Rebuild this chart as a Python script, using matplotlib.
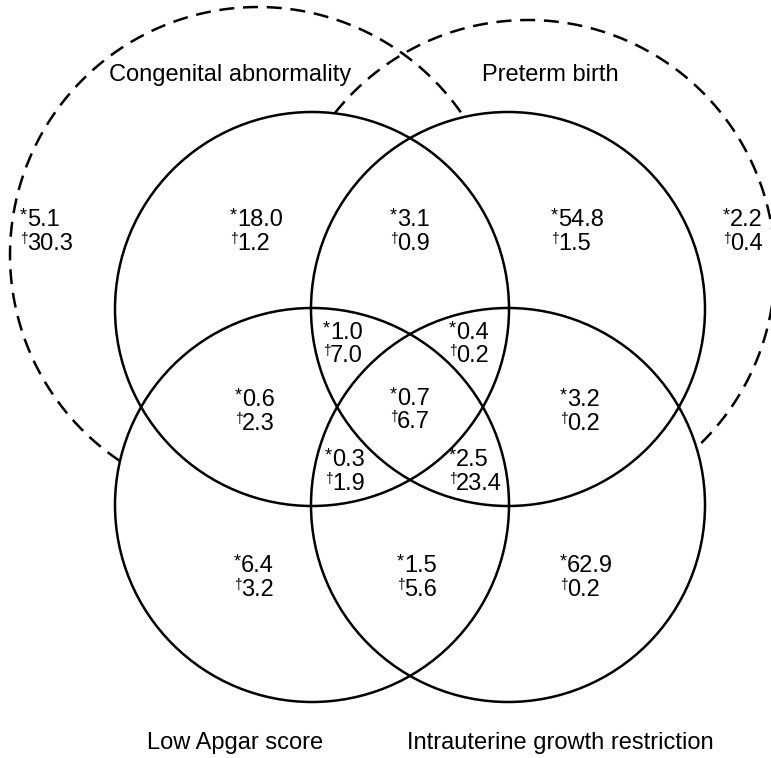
import numpy as np
import matplotlib
matplotlib.use('Agg')
import matplotlib.pyplot as plt
from matplotlib.patches import Circle

plt.rcParams['font.family'] = ['Liberation Sans', 'DejaVu Sans']

# Значения по областям диаграммы (* и †)
regions = ['CA only', 'CA+LA', 'CA+PB', 'CA+LA+PB', 'all four', 'CA+PB+IUGR',
           'PB only', 'PB+IUGR', 'LA only', 'LA+IUGR', 'IUGR only',
           'CA+LA+IUGR', 'PB+LA+IUGR', 'outside CA', 'outside PB']
star_vals = [18.0, 0.6, 3.1, 1.0, 0.7, 0.4, 54.8, 3.2, 6.4, 1.5, 62.9, 0.3, 2.5, 5.1, 2.2]
dagger_vals = [1.2, 2.3, 0.9, 7.0, 6.7, 0.2, 1.5, 0.2, 3.2, 5.6, 0.2, 1.9, 23.4, 30.3, 0.4]

set_names = ['Congenital abnormality', 'Preterm birth', 'Low Apgar score',
             'Intrauterine growth restriction']

# Разметка (в пикселях картинки)
label_pos = [(230, 220), (235, 400), (390, 220), (323, 333), (390, 399), (449, 333),
             (551, 220), (560, 400), (234, 566), (397, 566), (560, 566),
             (325, 460), (449, 460), (20, 220), (723, 220)]
line_gap = 23.5

solid_r = 197
solid_centers = [(312, 309), (508, 309), (312, 505), (508, 505)]
dashed = [((258, 255), 248), ((528, 267), 247)]
name_pos = [(230, 75), (550, 75), (235, 743), (560, 743)]

fig = plt.figure(figsize=(7.71, 7.58), dpi=100)
ax = fig.add_axes([0, 0, 1, 1])
ax.set_xlim(0, 771)
ax.set_ylim(758, 0)
ax.set_aspect('equal')
ax.axis('off')

for c in solid_centers:
    ax.add_patch(Circle(c, solid_r, fill=False, lw=1.8, color='black'))

# Пунктирные окружности - только вне сплошных кругов
for (cx, cy), r in dashed:
    start = np.arctan2(407 - cy, 410 - cx)
    t = np.linspace(start, start + 2 * np.pi, 3000)
    px = cx + r * np.cos(t)
    py = cy + r * np.sin(t)
    outside = np.ones_like(t, dtype=bool)
    for (sx, sy) in solid_centers:
        outside &= np.hypot(px - sx, py - sy) > solid_r
    ax.plot(np.where(outside, px, np.nan), np.where(outside, py, np.nan),
            color='black', lw=1.8, ls=(0, (6, 3.5)), clip_on=False)

for name, (x, y) in zip(set_names, name_pos):
    ax.text(x, y, name, ha='center', va='center', fontsize=17)

for (x, y), s, d in zip(label_pos, star_vals, dagger_vals):
    ax.text(x, y - 4, '*', ha='left', va='center', fontsize=13)
    ax.text(x + 7, y, f'{s:.1f}', ha='left', va='center', fontsize=17)
    ax.text(x, y + line_gap - 5, '\u2020', ha='left', va='center', fontsize=10)
    ax.text(x + 7, y + line_gap, f'{d:.1f}', ha='left', va='center', fontsize=17)

plt.savefig('out.png', dpi=100)
